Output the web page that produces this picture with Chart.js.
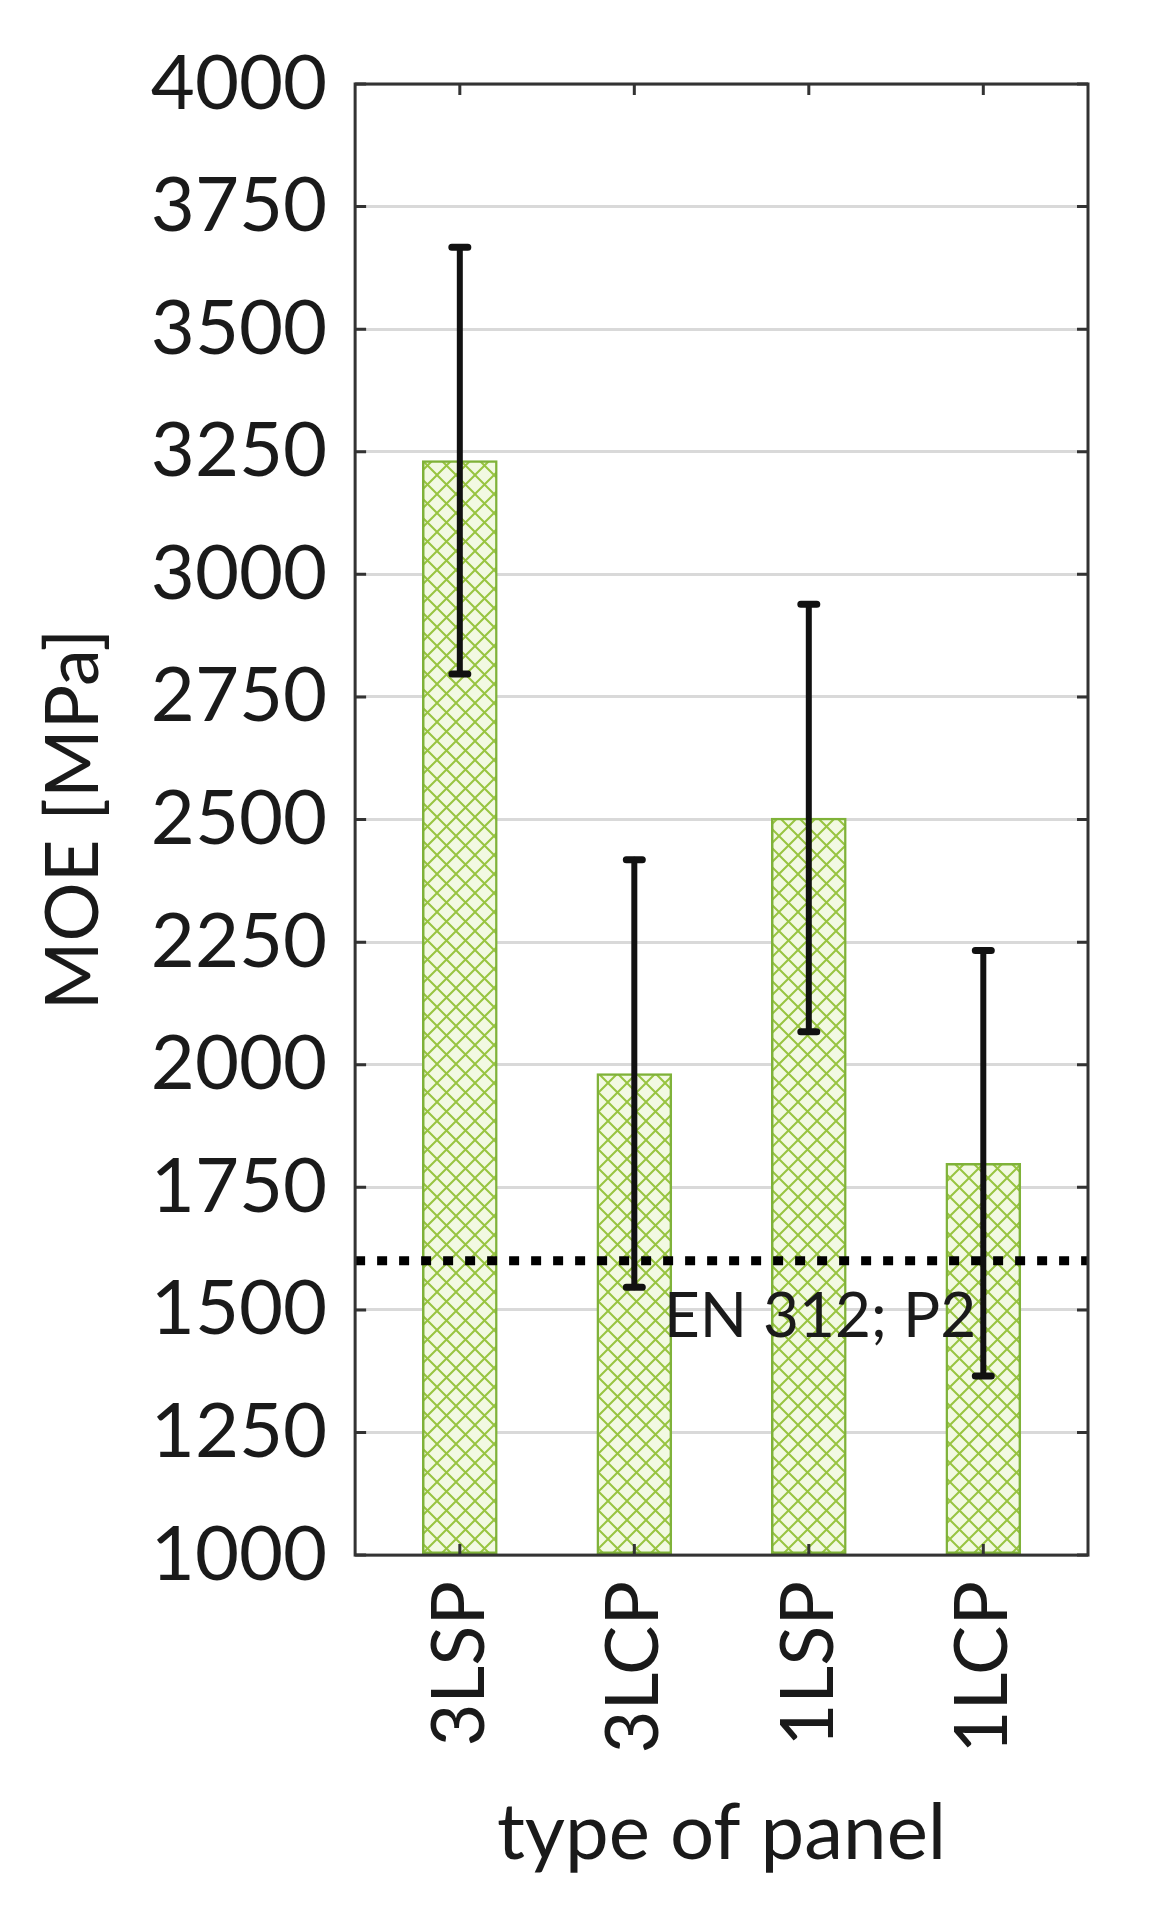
<!DOCTYPE html>
<html>
<head>
<meta charset="utf-8">
<script src="https://cdn.jsdelivr.net/npm/chart.js@4.4.1/dist/chart.umd.min.js"></script>
<style>
  html, body { margin: 0; padding: 0; background: #fff; }
  #wrap { width: 1160px; height: 1917px; position: relative; }
</style>
</head>
<body>
<div id="wrap"><canvas id="moe"></canvas></div>
<script>
// data
const panelTypes = ['3LSP', '3LCP', '1LSP', '1LCP'];
const moeMean = [3232, 1982, 2503, 1799];
const moeErr = [435, 436, 436, 434];
const refLimit = 1600;
const refLabel = 'EN 312; P2';
const yTicks = [1000, 1250, 1500, 1750, 2000, 2250, 2500, 2750, 3000, 3250, 3500, 3750, 4000];

const yMin = yTicks[0];
const yMax = yTicks[yTicks.length - 1];
const xMin = -0.6;
const xMax = panelTypes.length - 1 + 0.6;
const txt = '#1a1a1a';
const frameCol = '#333333';

// cross hatch fill for the bars
function hatch() {
  const s = 19;
  const c = document.createElement('canvas');
  c.width = s; c.height = s;
  const g = c.getContext('2d');
  g.fillStyle = '#f2f9e2';
  g.fillRect(0, 0, s, s);
  g.strokeStyle = '#98c441';
  g.lineWidth = 2;
  g.beginPath();
  g.moveTo(0, 0); g.lineTo(s, s);
  g.moveTo(s, 0); g.lineTo(0, s);
  g.stroke();
  return g.createPattern(c, 'repeat');
}

const errorBars = {
  id: 'errorBars',
  afterDatasetsDraw(chart) {
    const ctx = chart.ctx;
    const xs = chart.scales.x, ys = chart.scales.y;
    ctx.save();
    ctx.strokeStyle = '#111';
    ctx.lineCap = 'round';
    moeMean.forEach((m, i) => {
      const x = xs.getPixelForValue(i);
      const top = ys.getPixelForValue(m + moeErr[i]);
      const bot = ys.getPixelForValue(m - moeErr[i]);
      ctx.lineWidth = 6;
      ctx.beginPath();
      ctx.moveTo(x, top); ctx.lineTo(x, bot);
      ctx.stroke();
      ctx.lineWidth = 7;
      ctx.beginPath();
      ctx.moveTo(x - 8, top); ctx.lineTo(x + 8, top);
      ctx.moveTo(x - 8, bot); ctx.lineTo(x + 8, bot);
      ctx.stroke();
    });
    // label of the standard limit
    ctx.fillStyle = txt;
    ctx.font = '62px Lato';
    ctx.textAlign = 'left';
    ctx.textBaseline = 'alphabetic';
    ctx.fillText(refLabel, xs.getPixelForValue(1.17), ys.getPixelForValue(refLimit) + 76);
    ctx.restore();
  }
};

const frame = {
  id: 'frame',
  afterDraw(chart) {
    const ctx = chart.ctx;
    const a = chart.chartArea;
    const xs = chart.scales.x, ys = chart.scales.y;
    ctx.save();
    ctx.strokeStyle = frameCol;
    ctx.lineWidth = 3;
    ctx.strokeRect(a.left, a.top, a.right - a.left, a.bottom - a.top);
    ctx.beginPath();
    yTicks.forEach(v => {
      const y = ys.getPixelForValue(v);
      ctx.moveTo(a.left, y); ctx.lineTo(a.left + 11, y);
      ctx.moveTo(a.right, y); ctx.lineTo(a.right - 11, y);
    });
    panelTypes.forEach((p, i) => {
      const x = xs.getPixelForValue(i);
      ctx.moveTo(x, a.top); ctx.lineTo(x, a.top + 11);
      ctx.moveTo(x, a.bottom); ctx.lineTo(x, a.bottom - 11);
    });
    ctx.stroke();
    ctx.restore();
  }
};

new Chart(document.getElementById('moe'), {
  data: {
    datasets: [
      {
        type: 'line',
        label: refLabel,
        data: [{x: xMin, y: refLimit}, {x: xMax, y: refLimit}],
        borderColor: '#000',
        borderWidth: 9,
        borderDash: [10, 12],
        pointRadius: 0,
        order: 0
      },
      {
        type: 'bar',
        label: 'MOE',
        data: moeMean.map((m, i) => ({x: i, y: m})),
        backgroundColor: hatch(),
        borderColor: '#7fb239',
        borderWidth: 2.5,
        borderSkipped: false,
        barThickness: 75,
        base: yMin,
        order: 1
      }
    ]
  },
  options: {
    responsive: true,
    maintainAspectRatio: false,
    animation: false,
    layout: { padding: { left: 30, right: 72, top: 84, bottom: 36 } },
    plugins: { legend: { display: false }, tooltip: { enabled: false } },
    scales: {
      x: {
        type: 'linear',
        min: xMin,
        max: xMax,
        offset: false,
        grid: { display: false, drawTicks: false, offset: false },
        border: { display: false },
        ticks: {
          stepSize: 1,
          includeBounds: false,
          minRotation: 90,
          maxRotation: 90,
          padding: 26,
          color: txt,
          font: { family: 'Lato', size: 74 },
          callback: v => panelTypes[v] || ''
        },
        title: {
          display: true,
          text: 'type of panel',
          color: txt,
          font: { family: 'Lato', size: 78 },
          padding: { top: 8, bottom: 0 }
        }
      },
      y: {
        min: yMin,
        max: yMax,
        grid: { color: '#d9d9d9', lineWidth: 3, drawTicks: false },
        border: { display: false },
        ticks: {
          stepSize: 250,
          padding: 28,
          color: txt,
          font: { family: 'Lato', size: 76 },
          callback: v => String(v)
        },
        title: {
          display: true,
          text: 'MOE [MPa]',
          color: txt,
          font: { family: 'Lato', size: 74 },
          padding: { top: 0, bottom: 4 }
        }
      }
    }
  },
  plugins: [errorBars, frame]
});
</script>
</body>
</html>
